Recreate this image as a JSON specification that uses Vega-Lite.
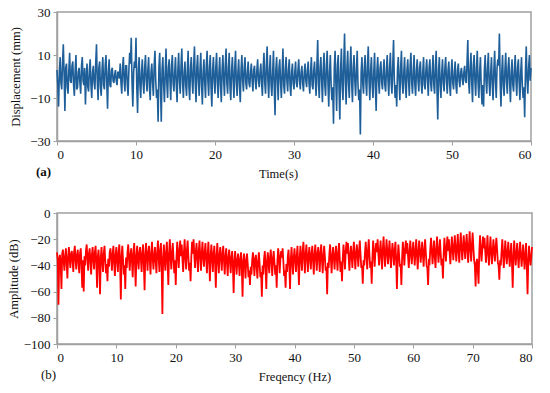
{
"$schema": "https://vega.github.io/schema/vega-lite/v6.json",
"padding": {"left": 6, "top": 5, "right": 5, "bottom": 5},
"config": {
"font": "Liberation Serif, Times New Roman, serif",
"view": {"stroke": "#a0a0a0", "strokeWidth": 1.5},
"axis": {"grid": false, "domainColor": "#a0a0a0", "domainWidth": 1.5, "tickColor": "#a0a0a0", "tickSize": 4, "labelFont": "Liberation Serif, Times New Roman, serif", "labelFontSize": 13, "labelColor": "#111111", "titleFont": "Liberation Serif, Times New Roman, serif", "titleFontSize": 12.5, "titleFontWeight": "normal", "titleColor": "#111111", "labelPadding": 3},
"concat": {"spacing": 25}
},
"vconcat": [
{
"width": 474, "height": 129,
"title": {"text": "(a)", "orient": "bottom", "anchor": "start", "frame": "group", "fontWeight": "bold", "fontSize": 13, "font": "Liberation Serif, Times New Roman, serif", "color": "#111111", "dx": -21, "dy": -18},
"data": {"values": [
{"t":0,"d":3},{"t":0.1,"d":-4},{"t":0.2,"d":-14},{"t":0.3,"d":2},{"t":0.4,"d":9},{"t":0.5,"d":-3},{"t":0.6,"d":-6},{"t":0.7,"d":6},{"t":0.8,"d":15},{"t":0.9,"d":1},
{"t":1,"d":-16},{"t":1.1,"d":4},{"t":1.2,"d":6},{"t":1.3,"d":-5},{"t":1.4,"d":-8},{"t":1.5,"d":3},{"t":1.6,"d":11},{"t":1.7,"d":-2},{"t":1.8,"d":-3},{"t":1.9,"d":5},
{"t":2,"d":7},{"t":2.1,"d":-4},{"t":2.2,"d":-9},{"t":2.3,"d":3},{"t":2.4,"d":10},{"t":2.5,"d":-6},{"t":2.6,"d":-5},{"t":2.7,"d":2},{"t":2.8,"d":4},{"t":2.9,"d":-3},
{"t":3,"d":-8},{"t":3.1,"d":5},{"t":3.2,"d":9},{"t":3.3,"d":-2},{"t":3.4,"d":-4},{"t":3.5,"d":4},{"t":3.6,"d":-13},{"t":3.7,"d":-1},{"t":3.8,"d":6},{"t":3.9,"d":-5},
{"t":4,"d":-7},{"t":4.1,"d":3},{"t":4.2,"d":8},{"t":4.3,"d":-4},{"t":4.4,"d":-10},{"t":4.5,"d":2},{"t":4.6,"d":5},{"t":4.7,"d":-3},{"t":4.8,"d":-6},{"t":4.9,"d":6},
{"t":5,"d":15},{"t":5.1,"d":-2},{"t":5.2,"d":-11},{"t":5.3,"d":4},{"t":5.4,"d":7},{"t":5.5,"d":-5},{"t":5.6,"d":-9},{"t":5.7,"d":3},{"t":5.8,"d":9},{"t":5.9,"d":-4},
{"t":6,"d":-6},{"t":6.1,"d":5},{"t":6.2,"d":10},{"t":6.3,"d":-3},{"t":6.4,"d":-15},{"t":6.5,"d":2},{"t":6.6,"d":8},{"t":6.7,"d":-4},{"t":6.8,"d":-5},{"t":6.9,"d":3},
{"t":7,"d":4},{"t":7.1,"d":-2},{"t":7.2,"d":-3},{"t":7.3,"d":1},{"t":7.4,"d":3},{"t":7.5,"d":-2},{"t":7.6,"d":-4},{"t":7.7,"d":2},{"t":7.8,"d":2},{"t":7.9,"d":-1},
{"t":8,"d":6},{"t":8.1,"d":-3},{"t":8.2,"d":-8},{"t":8.3,"d":4},{"t":8.4,"d":9},{"t":8.5,"d":-2},{"t":8.6,"d":-7},{"t":8.7,"d":5},{"t":8.8,"d":5},{"t":8.9,"d":-4},
{"t":9,"d":-9},{"t":9.1,"d":3},{"t":9.2,"d":11},{"t":9.3,"d":6},{"t":9.4,"d":18},{"t":9.5,"d":-3},{"t":9.6,"d":-14},{"t":9.7,"d":2},{"t":9.8,"d":7},{"t":9.9,"d":4},
{"t":10,"d":18},{"t":10.1,"d":-5},{"t":10.2,"d":-17},{"t":10.3,"d":3},{"t":10.4,"d":9},{"t":10.5,"d":-4},{"t":10.6,"d":-10},{"t":10.7,"d":2},{"t":10.8,"d":8},{"t":10.9,"d":-3},
{"t":11,"d":-8},{"t":11.1,"d":4},{"t":11.2,"d":10},{"t":11.3,"d":-2},{"t":11.4,"d":-7},{"t":11.5,"d":3},{"t":11.6,"d":9},{"t":11.7,"d":-5},{"t":11.8,"d":-11},{"t":11.9,"d":2},
{"t":12,"d":6},{"t":12.1,"d":-3},{"t":12.2,"d":-9},{"t":12.3,"d":5},{"t":12.4,"d":12},{"t":12.5,"d":-2},{"t":12.6,"d":-10},{"t":12.7,"d":-6},{"t":12.8,"d":-21},{"t":12.9,"d":4},
{"t":13,"d":11},{"t":13.1,"d":-5},{"t":13.2,"d":-21},{"t":13.3,"d":3},{"t":13.4,"d":9},{"t":13.5,"d":-4},{"t":13.6,"d":-12},{"t":13.7,"d":2},{"t":13.8,"d":13},{"t":13.9,"d":-3},
{"t":14,"d":-10},{"t":14.1,"d":4},{"t":14.2,"d":8},{"t":14.3,"d":-2},{"t":14.4,"d":-11},{"t":14.5,"d":5},{"t":14.6,"d":10},{"t":14.7,"d":-3},{"t":14.8,"d":-7},{"t":14.9,"d":2},
{"t":15,"d":9},{"t":15.1,"d":-4},{"t":15.2,"d":-12},{"t":15.3,"d":3},{"t":15.4,"d":11},{"t":15.5,"d":-2},{"t":15.6,"d":-8},{"t":15.7,"d":5},{"t":15.8,"d":13},{"t":15.9,"d":-3},
{"t":16,"d":-10},{"t":16.1,"d":2},{"t":16.2,"d":7},{"t":16.3,"d":-4},{"t":16.4,"d":-9},{"t":16.5,"d":3},{"t":16.6,"d":12},{"t":16.7,"d":-5},{"t":16.8,"d":-11},{"t":16.9,"d":4},
{"t":17,"d":9},{"t":17.1,"d":-2},{"t":17.2,"d":-8},{"t":17.3,"d":5},{"t":17.4,"d":14},{"t":17.5,"d":-3},{"t":17.6,"d":-12},{"t":17.7,"d":4},{"t":17.8,"d":10},{"t":17.9,"d":-2},
{"t":18,"d":-9},{"t":18.1,"d":3},{"t":18.2,"d":11},{"t":18.3,"d":-4},{"t":18.4,"d":-13},{"t":18.5,"d":2},{"t":18.6,"d":8},{"t":18.7,"d":-3},{"t":18.8,"d":-10},{"t":18.9,"d":5},
{"t":19,"d":12},{"t":19.1,"d":-2},{"t":19.2,"d":-9},{"t":19.3,"d":4},{"t":19.4,"d":10},{"t":19.5,"d":-5},{"t":19.6,"d":-14},{"t":19.7,"d":3},{"t":19.8,"d":9},{"t":19.9,"d":-2},
{"t":20,"d":-8},{"t":20.1,"d":4},{"t":20.2,"d":11},{"t":20.3,"d":-3},{"t":20.4,"d":-10},{"t":20.5,"d":2},{"t":20.6,"d":9},{"t":20.7,"d":-4},{"t":20.8,"d":-12},{"t":20.9,"d":3},
{"t":21,"d":10},{"t":21.1,"d":-2},{"t":21.2,"d":-9},{"t":21.3,"d":5},{"t":21.4,"d":13},{"t":21.5,"d":-3},{"t":21.6,"d":-8},{"t":21.7,"d":4},{"t":21.8,"d":11},{"t":21.9,"d":-5},
{"t":22,"d":-11},{"t":22.1,"d":3},{"t":22.2,"d":9},{"t":22.3,"d":-2},{"t":22.4,"d":-10},{"t":22.5,"d":4},{"t":22.6,"d":12},{"t":22.7,"d":-3},{"t":22.8,"d":-9},{"t":22.9,"d":2},
{"t":23,"d":8},{"t":23.1,"d":-4},{"t":23.2,"d":-12},{"t":23.3,"d":3},{"t":23.4,"d":10},{"t":23.5,"d":-2},{"t":23.6,"d":-7},{"t":23.7,"d":4},{"t":23.8,"d":9},{"t":23.9,"d":-3},
{"t":24,"d":-6},{"t":24.1,"d":2},{"t":24.2,"d":7},{"t":24.3,"d":-3},{"t":24.4,"d":-5},{"t":24.5,"d":2},{"t":24.6,"d":6},{"t":24.7,"d":-2},{"t":24.8,"d":-7},{"t":24.9,"d":3},
{"t":25,"d":5},{"t":25.1,"d":-2},{"t":25.2,"d":-6},{"t":25.3,"d":3},{"t":25.4,"d":8},{"t":25.5,"d":-2},{"t":25.6,"d":-5},{"t":25.7,"d":2},{"t":25.8,"d":6},{"t":25.9,"d":-3},
{"t":26,"d":-9},{"t":26.1,"d":4},{"t":26.2,"d":11},{"t":26.3,"d":-3},{"t":26.4,"d":-8},{"t":26.5,"d":5},{"t":26.6,"d":14},{"t":26.7,"d":-2},{"t":26.8,"d":-10},{"t":26.9,"d":3},
{"t":27,"d":10},{"t":27.1,"d":-4},{"t":27.2,"d":-9},{"t":27.3,"d":2},{"t":27.4,"d":12},{"t":27.5,"d":-5},{"t":27.6,"d":-18},{"t":27.7,"d":3},{"t":27.8,"d":9},{"t":27.9,"d":-2},
{"t":28,"d":-11},{"t":28.1,"d":4},{"t":28.2,"d":8},{"t":28.3,"d":-3},{"t":28.4,"d":-10},{"t":28.5,"d":2},{"t":28.6,"d":13},{"t":28.7,"d":-4},{"t":28.8,"d":-8},{"t":28.9,"d":3},
{"t":29,"d":9},{"t":29.1,"d":-2},{"t":29.2,"d":-7},{"t":29.3,"d":3},{"t":29.4,"d":8},{"t":29.5,"d":-4},{"t":29.6,"d":-9},{"t":29.7,"d":2},{"t":29.8,"d":6},{"t":29.9,"d":-3},
{"t":30,"d":-6},{"t":30.1,"d":2},{"t":30.2,"d":7},{"t":30.3,"d":-3},{"t":30.4,"d":-5},{"t":30.5,"d":3},{"t":30.6,"d":8},{"t":30.7,"d":-2},{"t":30.8,"d":-6},{"t":30.9,"d":2},
{"t":31,"d":5},{"t":31.1,"d":-3},{"t":31.2,"d":-7},{"t":31.3,"d":2},{"t":31.4,"d":6},{"t":31.5,"d":-2},{"t":31.6,"d":-5},{"t":31.7,"d":3},{"t":31.8,"d":7},{"t":31.9,"d":-3},
{"t":32,"d":-8},{"t":32.1,"d":2},{"t":32.2,"d":9},{"t":32.3,"d":-4},{"t":32.4,"d":-6},{"t":32.5,"d":3},{"t":32.6,"d":7},{"t":32.7,"d":-2},{"t":32.8,"d":-9},{"t":32.9,"d":5},
{"t":33,"d":17},{"t":33.1,"d":-3},{"t":33.2,"d":-10},{"t":33.3,"d":4},{"t":33.4,"d":9},{"t":33.5,"d":-2},{"t":33.6,"d":-12},{"t":33.7,"d":3},{"t":33.8,"d":11},{"t":33.9,"d":-4},
{"t":34,"d":-9},{"t":34.1,"d":5},{"t":34.2,"d":12},{"t":34.3,"d":-3},{"t":34.4,"d":-14},{"t":34.5,"d":2},{"t":34.6,"d":10},{"t":34.7,"d":-4},{"t":34.8,"d":-11},{"t":34.9,"d":-5},
{"t":35,"d":-22},{"t":35.1,"d":4},{"t":35.2,"d":12},{"t":35.3,"d":-3},{"t":35.4,"d":-16},{"t":35.5,"d":5},{"t":35.6,"d":10},{"t":35.7,"d":-6},{"t":35.8,"d":-20},{"t":35.9,"d":3},
{"t":36,"d":13},{"t":36.1,"d":-4},{"t":36.2,"d":-11},{"t":36.3,"d":6},{"t":36.4,"d":20},{"t":36.5,"d":-2},{"t":36.6,"d":-13},{"t":36.7,"d":4},{"t":36.8,"d":12},{"t":36.9,"d":-3},
{"t":37,"d":-10},{"t":37.1,"d":5},{"t":37.2,"d":14},{"t":37.3,"d":-3},{"t":37.4,"d":-12},{"t":37.5,"d":4},{"t":37.6,"d":10},{"t":37.7,"d":-2},{"t":37.8,"d":-9},{"t":37.9,"d":3},
{"t":38,"d":12},{"t":38.1,"d":-4},{"t":38.2,"d":-11},{"t":38.3,"d":-6},{"t":38.4,"d":-27},{"t":38.5,"d":2},{"t":38.6,"d":9},{"t":38.7,"d":-3},{"t":38.8,"d":-8},{"t":38.9,"d":4},
{"t":39,"d":10},{"t":39.1,"d":-3},{"t":39.2,"d":-9},{"t":39.3,"d":5},{"t":39.4,"d":14},{"t":39.5,"d":-2},{"t":39.6,"d":-11},{"t":39.7,"d":3},{"t":39.8,"d":9},{"t":39.9,"d":-4},
{"t":40,"d":-10},{"t":40.1,"d":2},{"t":40.2,"d":11},{"t":40.3,"d":-5},{"t":40.4,"d":-16},{"t":40.5,"d":3},{"t":40.6,"d":9},{"t":40.7,"d":-2},{"t":40.8,"d":-8},{"t":40.9,"d":4},
{"t":41,"d":7},{"t":41.1,"d":-3},{"t":41.2,"d":-6},{"t":41.3,"d":2},{"t":41.4,"d":8},{"t":41.5,"d":-4},{"t":41.6,"d":-7},{"t":41.7,"d":3},{"t":41.8,"d":10},{"t":41.9,"d":-2},
{"t":42,"d":-9},{"t":42.1,"d":4},{"t":42.2,"d":11},{"t":42.3,"d":-3},{"t":42.4,"d":-8},{"t":42.5,"d":5},{"t":42.6,"d":17},{"t":42.7,"d":-2},{"t":42.8,"d":-10},{"t":42.9,"d":-4},
{"t":43,"d":-14},{"t":43.1,"d":3},{"t":43.2,"d":9},{"t":43.3,"d":-2},{"t":43.4,"d":-11},{"t":43.5,"d":4},{"t":43.6,"d":12},{"t":43.7,"d":-3},{"t":43.8,"d":-8},{"t":43.9,"d":2},
{"t":44,"d":9},{"t":44.1,"d":-4},{"t":44.2,"d":-10},{"t":44.3,"d":3},{"t":44.4,"d":8},{"t":44.5,"d":-2},{"t":44.6,"d":-9},{"t":44.7,"d":5},{"t":44.8,"d":11},{"t":44.9,"d":-3},
{"t":45,"d":-8},{"t":45.1,"d":2},{"t":45.2,"d":10},{"t":45.3,"d":-4},{"t":45.4,"d":-9},{"t":45.5,"d":3},{"t":45.6,"d":8},{"t":45.7,"d":-2},{"t":45.8,"d":-7},{"t":45.9,"d":4},
{"t":46,"d":7},{"t":46.1,"d":-3},{"t":46.2,"d":-8},{"t":46.3,"d":2},{"t":46.4,"d":9},{"t":46.5,"d":-4},{"t":46.6,"d":-6},{"t":46.7,"d":3},{"t":46.8,"d":8},{"t":46.9,"d":-2},
{"t":47,"d":-9},{"t":47.1,"d":4},{"t":47.2,"d":8},{"t":47.3,"d":-3},{"t":47.4,"d":-7},{"t":47.5,"d":2},{"t":47.6,"d":10},{"t":47.7,"d":-4},{"t":47.8,"d":-8},{"t":47.9,"d":5},
{"t":48,"d":12},{"t":48.1,"d":-6},{"t":48.2,"d":-20},{"t":48.3,"d":3},{"t":48.4,"d":9},{"t":48.5,"d":-4},{"t":48.6,"d":-10},{"t":48.7,"d":2},{"t":48.8,"d":8},{"t":48.9,"d":-3},
{"t":49,"d":-7},{"t":49.1,"d":4},{"t":49.2,"d":9},{"t":49.3,"d":-2},{"t":49.4,"d":-8},{"t":49.5,"d":3},{"t":49.6,"d":7},{"t":49.7,"d":-4},{"t":49.8,"d":-9},{"t":49.9,"d":2},
{"t":50,"d":8},{"t":50.1,"d":-3},{"t":50.2,"d":-6},{"t":50.3,"d":2},{"t":50.4,"d":7},{"t":50.5,"d":-4},{"t":50.6,"d":-8},{"t":50.7,"d":3},{"t":50.8,"d":6},{"t":50.9,"d":-2},
{"t":51,"d":-5},{"t":51.1,"d":2},{"t":51.2,"d":4},{"t":51.3,"d":-1},{"t":51.4,"d":-4},{"t":51.5,"d":2},{"t":51.6,"d":5},{"t":51.7,"d":-2},{"t":51.8,"d":-3},{"t":51.9,"d":6},
{"t":52,"d":17},{"t":52.1,"d":-2},{"t":52.2,"d":-8},{"t":52.3,"d":4},{"t":52.4,"d":11},{"t":52.5,"d":-3},{"t":52.6,"d":-12},{"t":52.7,"d":5},{"t":52.8,"d":10},{"t":52.9,"d":-2},
{"t":53,"d":-9},{"t":53.1,"d":4},{"t":53.2,"d":12},{"t":53.3,"d":-3},{"t":53.4,"d":-10},{"t":53.5,"d":2},{"t":53.6,"d":9},{"t":53.7,"d":-5},{"t":53.8,"d":-13},{"t":53.9,"d":-4},
{"t":54,"d":-14},{"t":54.1,"d":3},{"t":54.2,"d":10},{"t":54.3,"d":-2},{"t":54.4,"d":-8},{"t":54.5,"d":4},{"t":54.6,"d":11},{"t":54.7,"d":-3},{"t":54.8,"d":-9},{"t":54.9,"d":2},
{"t":55,"d":9},{"t":55.1,"d":-4},{"t":55.2,"d":-11},{"t":55.3,"d":3},{"t":55.4,"d":12},{"t":55.5,"d":-2},{"t":55.6,"d":-10},{"t":55.7,"d":4},{"t":55.8,"d":8},{"t":55.9,"d":5},
{"t":56,"d":20},{"t":56.1,"d":-3},{"t":56.2,"d":-14},{"t":56.3,"d":2},{"t":56.4,"d":10},{"t":56.5,"d":-4},{"t":56.6,"d":-9},{"t":56.7,"d":3},{"t":56.8,"d":11},{"t":56.9,"d":-2},
{"t":57,"d":-8},{"t":57.1,"d":4},{"t":57.2,"d":9},{"t":57.3,"d":-3},{"t":57.4,"d":-12},{"t":57.5,"d":2},{"t":57.6,"d":8},{"t":57.7,"d":-4},{"t":57.8,"d":-7},{"t":57.9,"d":3},
{"t":58,"d":10},{"t":58.1,"d":-2},{"t":58.2,"d":-9},{"t":58.3,"d":4},{"t":58.4,"d":8},{"t":58.5,"d":-3},{"t":58.6,"d":-11},{"t":58.7,"d":2},{"t":58.8,"d":9},{"t":58.9,"d":-4},
{"t":59,"d":-10},{"t":59.1,"d":-5},{"t":59.2,"d":-19},{"t":59.3,"d":3},{"t":59.4,"d":14},{"t":59.5,"d":-2},{"t":59.6,"d":-8},{"t":59.7,"d":4},{"t":59.8,"d":10},{"t":59.9,"d":-2},
{"t":60,"d":4}
]},
"mark": {"type": "line", "color": "#1f5f99", "strokeWidth": 1.6},
"encoding": {
"x": {"field": "t", "type": "quantitative", "scale": {"domain": [0, 60], "nice": false}, "axis": {"values": [0, 10, 20, 30, 40, 50, 60], "title": "Time(s)", "titleX": 221, "titlePadding": 6}},
"y": {"field": "d", "type": "quantitative", "scale": {"domain": [-30, 30], "nice": false}, "axis": {"values": [-30, -10, 10, 30], "title": "Displacement (mm)", "titlePadding": 7}}
}
},
{
"width": 475, "height": 131,
"title": {"text": "(b)", "orient": "bottom", "anchor": "start", "frame": "group", "fontWeight": "normal", "fontSize": 13, "font": "Liberation Serif, Times New Roman, serif", "color": "#111111", "dx": -16, "dy": -18},
"data": {"values": [
{"f":0,"a":-30},{"f":0.125,"a":-36},{"f":0.25,"a":-70},{"f":0.375,"a":-35},{"f":0.5,"a":-32},{"f":0.625,"a":-40},{"f":0.75,"a":-58},{"f":0.875,"a":-31},
{"f":1,"a":-28},{"f":1.125,"a":-37},{"f":1.25,"a":-44},{"f":1.375,"a":-33},{"f":1.5,"a":-27},{"f":1.625,"a":-38},{"f":1.75,"a":-50},{"f":1.875,"a":-34},
{"f":2,"a":-26},{"f":2.125,"a":-35},{"f":2.25,"a":-42},{"f":2.375,"a":-31},{"f":2.5,"a":-29},{"f":2.625,"a":-37},{"f":2.75,"a":-45},{"f":2.875,"a":-30},
{"f":3,"a":-25},{"f":3.125,"a":-36},{"f":3.25,"a":-43},{"f":3.375,"a":-32},{"f":3.5,"a":-28},{"f":3.625,"a":-38},{"f":3.75,"a":-46},{"f":3.875,"a":-31},
{"f":4,"a":-27},{"f":4.125,"a":-39},{"f":4.25,"a":-57},{"f":4.375,"a":-36},{"f":4.5,"a":-60},{"f":4.625,"a":-33},{"f":4.75,"a":-40},{"f":4.875,"a":-29},
{"f":5,"a":-24},{"f":5.125,"a":-35},{"f":5.25,"a":-44},{"f":5.375,"a":-31},{"f":5.5,"a":-27},{"f":5.625,"a":-37},{"f":5.75,"a":-47},{"f":5.875,"a":-32},
{"f":6,"a":-26},{"f":6.125,"a":-36},{"f":6.25,"a":-43},{"f":6.375,"a":-30},{"f":6.5,"a":-25},{"f":6.625,"a":-38},{"f":6.75,"a":-57},{"f":6.875,"a":-33},
{"f":7,"a":-28},{"f":7.125,"a":-40},{"f":7.25,"a":-62},{"f":7.375,"a":-34},{"f":7.5,"a":-26},{"f":7.625,"a":-37},{"f":7.75,"a":-45},{"f":7.875,"a":-31},
{"f":8,"a":-25},{"f":8.125,"a":-36},{"f":8.25,"a":-46},{"f":8.375,"a":-39},{"f":8.5,"a":-52},{"f":8.625,"a":-35},{"f":8.75,"a":-41},{"f":8.875,"a":-30},
{"f":9,"a":-27},{"f":9.125,"a":-35},{"f":9.25,"a":-44},{"f":9.375,"a":-31},{"f":9.5,"a":-25},{"f":9.625,"a":-38},{"f":9.75,"a":-48},{"f":9.875,"a":-32},
{"f":10,"a":-26},{"f":10.125,"a":-37},{"f":10.25,"a":-45},{"f":10.375,"a":-30},{"f":10.5,"a":-24},{"f":10.625,"a":-39},{"f":10.75,"a":-66},{"f":10.875,"a":-33},
{"f":11,"a":-25},{"f":11.125,"a":-36},{"f":11.25,"a":-47},{"f":11.375,"a":-40},{"f":11.5,"a":-58},{"f":11.625,"a":-34},{"f":11.75,"a":-42},{"f":11.875,"a":-30},
{"f":12,"a":-24},{"f":12.125,"a":-35},{"f":12.25,"a":-44},{"f":12.375,"a":-32},{"f":12.5,"a":-27},{"f":12.625,"a":-37},{"f":12.75,"a":-49},{"f":12.875,"a":-31},
{"f":13,"a":-23},{"f":13.125,"a":-38},{"f":13.25,"a":-56},{"f":13.375,"a":-33},{"f":13.5,"a":-25},{"f":13.625,"a":-36},{"f":13.75,"a":-43},{"f":13.875,"a":-30},
{"f":14,"a":-26},{"f":14.125,"a":-35},{"f":14.25,"a":-45},{"f":14.375,"a":-31},{"f":14.5,"a":-24},{"f":14.625,"a":-39},{"f":14.75,"a":-59},{"f":14.875,"a":-32},
{"f":15,"a":-23},{"f":15.125,"a":-34},{"f":15.25,"a":-44},{"f":15.375,"a":-30},{"f":15.5,"a":-25},{"f":15.625,"a":-36},{"f":15.75,"a":-47},{"f":15.875,"a":-31},
{"f":16,"a":-22},{"f":16.125,"a":-35},{"f":16.25,"a":-43},{"f":16.375,"a":-32},{"f":16.5,"a":-26},{"f":16.625,"a":-37},{"f":16.75,"a":-46},{"f":16.875,"a":-30},
{"f":17,"a":-21},{"f":17.125,"a":-34},{"f":17.25,"a":-45},{"f":17.375,"a":-29},{"f":17.5,"a":-23},{"f":17.625,"a":-41},{"f":17.75,"a":-77},{"f":17.875,"a":-35},
{"f":18,"a":-24},{"f":18.125,"a":-36},{"f":18.25,"a":-44},{"f":18.375,"a":-30},{"f":18.5,"a":-22},{"f":18.625,"a":-38},{"f":18.75,"a":-55},{"f":18.875,"a":-31},
{"f":19,"a":-20},{"f":19.125,"a":-33},{"f":19.25,"a":-43},{"f":19.375,"a":-31},{"f":19.5,"a":-23},{"f":19.625,"a":-35},{"f":19.75,"a":-46},{"f":19.875,"a":-36},
{"f":20,"a":-55},{"f":20.125,"a":-34},{"f":20.25,"a":-22},{"f":20.375,"a":-32},{"f":20.5,"a":-42},{"f":20.625,"a":-29},{"f":20.75,"a":-21},{"f":20.875,"a":-33},
{"f":21,"a":-24},{"f":21.125,"a":-35},{"f":21.25,"a":-45},{"f":21.375,"a":-30},{"f":21.5,"a":-20},{"f":21.625,"a":-34},{"f":21.75,"a":-43},{"f":21.875,"a":-29},
{"f":22,"a":-21},{"f":22.125,"a":-33},{"f":22.25,"a":-44},{"f":22.375,"a":-38},{"f":22.5,"a":-52},{"f":22.625,"a":-33},{"f":22.75,"a":-22},{"f":22.875,"a":-31},
{"f":23,"a":-20},{"f":23.125,"a":-32},{"f":23.25,"a":-42},{"f":23.375,"a":-30},{"f":23.5,"a":-23},{"f":23.625,"a":-35},{"f":23.75,"a":-45},{"f":23.875,"a":-29},
{"f":24,"a":-21},{"f":24.125,"a":-33},{"f":24.25,"a":-44},{"f":24.375,"a":-31},{"f":24.5,"a":-22},{"f":24.625,"a":-34},{"f":24.75,"a":-41},{"f":24.875,"a":-30},
{"f":25,"a":-23},{"f":25.125,"a":-35},{"f":25.25,"a":-46},{"f":25.375,"a":-32},{"f":25.5,"a":-22},{"f":25.625,"a":-36},{"f":25.75,"a":-52},{"f":25.875,"a":-33},
{"f":26,"a":-24},{"f":26.125,"a":-35},{"f":26.25,"a":-45},{"f":26.375,"a":-31},{"f":26.5,"a":-25},{"f":26.625,"a":-38},{"f":26.75,"a":-57},{"f":26.875,"a":-33},
{"f":27,"a":-23},{"f":27.125,"a":-36},{"f":27.25,"a":-46},{"f":27.375,"a":-32},{"f":27.5,"a":-26},{"f":27.625,"a":-35},{"f":27.75,"a":-44},{"f":27.875,"a":-31},
{"f":28,"a":-25},{"f":28.125,"a":-37},{"f":28.25,"a":-47},{"f":28.375,"a":-33},{"f":28.5,"a":-27},{"f":28.625,"a":-38},{"f":28.75,"a":-48},{"f":28.875,"a":-34},
{"f":29,"a":-28},{"f":29.125,"a":-36},{"f":29.25,"a":-46},{"f":29.375,"a":-35},{"f":29.5,"a":-29},{"f":29.625,"a":-41},{"f":29.75,"a":-61},{"f":29.875,"a":-37},
{"f":30,"a":-29},{"f":30.125,"a":-38},{"f":30.25,"a":-47},{"f":30.375,"a":-36},{"f":30.5,"a":-31},{"f":30.625,"a":-39},{"f":30.75,"a":-48},{"f":30.875,"a":-35},
{"f":31,"a":-30},{"f":31.125,"a":-42},{"f":31.25,"a":-64},{"f":31.375,"a":-37},{"f":31.5,"a":-31},{"f":31.625,"a":-40},{"f":31.75,"a":-50},{"f":31.875,"a":-36},
{"f":32,"a":-31},{"f":32.125,"a":-39},{"f":32.25,"a":-49},{"f":32.375,"a":-44},{"f":32.5,"a":-55},{"f":32.625,"a":-41},{"f":32.75,"a":-47},{"f":32.875,"a":-36},
{"f":33,"a":-30},{"f":33.125,"a":-38},{"f":33.25,"a":-48},{"f":33.375,"a":-35},{"f":33.5,"a":-32},{"f":33.625,"a":-41},{"f":33.75,"a":-50},{"f":33.875,"a":-37},
{"f":34,"a":-30},{"f":34.125,"a":-39},{"f":34.25,"a":-49},{"f":34.375,"a":-45},{"f":34.5,"a":-64},{"f":34.625,"a":-40},{"f":34.75,"a":-47},{"f":34.875,"a":-35},
{"f":35,"a":-29},{"f":35.125,"a":-41},{"f":35.25,"a":-58},{"f":35.375,"a":-37},{"f":35.5,"a":-30},{"f":35.625,"a":-38},{"f":35.75,"a":-46},{"f":35.875,"a":-34},
{"f":36,"a":-28},{"f":36.125,"a":-37},{"f":36.25,"a":-48},{"f":36.375,"a":-35},{"f":36.5,"a":-29},{"f":36.625,"a":-38},{"f":36.75,"a":-47},{"f":36.875,"a":-40},
{"f":37,"a":-57},{"f":37.125,"a":-36},{"f":37.25,"a":-27},{"f":37.375,"a":-33},{"f":37.5,"a":-46},{"f":37.625,"a":-35},{"f":37.75,"a":-29},{"f":37.875,"a":-34},
{"f":38,"a":-27},{"f":38.125,"a":-37},{"f":38.25,"a":-48},{"f":38.375,"a":-44},{"f":38.5,"a":-57},{"f":38.625,"a":-39},{"f":38.75,"a":-45},{"f":38.875,"a":-33},
{"f":39,"a":-28},{"f":39.125,"a":-40},{"f":39.25,"a":-58},{"f":39.375,"a":-36},{"f":39.5,"a":-26},{"f":39.625,"a":-37},{"f":39.75,"a":-47},{"f":39.875,"a":-34},
{"f":40,"a":-27},{"f":40.125,"a":-36},{"f":40.25,"a":-45},{"f":40.375,"a":-33},{"f":40.5,"a":-25},{"f":40.625,"a":-39},{"f":40.75,"a":-55},{"f":40.875,"a":-35},
{"f":41,"a":-25},{"f":41.125,"a":-35},{"f":41.25,"a":-44},{"f":41.375,"a":-30},{"f":41.5,"a":-22},{"f":41.625,"a":-34},{"f":41.75,"a":-46},{"f":41.875,"a":-32},
{"f":42,"a":-24},{"f":42.125,"a":-34},{"f":42.25,"a":-45},{"f":42.375,"a":-33},{"f":42.5,"a":-26},{"f":42.625,"a":-35},{"f":42.75,"a":-43},{"f":42.875,"a":-31},
{"f":43,"a":-25},{"f":43.125,"a":-36},{"f":43.25,"a":-47},{"f":43.375,"a":-32},{"f":43.5,"a":-24},{"f":43.625,"a":-34},{"f":43.75,"a":-44},{"f":43.875,"a":-31},
{"f":44,"a":-26},{"f":44.125,"a":-35},{"f":44.25,"a":-45},{"f":44.375,"a":-30},{"f":44.5,"a":-24},{"f":44.625,"a":-36},{"f":44.75,"a":-46},{"f":44.875,"a":-33},
{"f":45,"a":-25},{"f":45.125,"a":-34},{"f":45.25,"a":-44},{"f":45.375,"a":-41},{"f":45.5,"a":-62},{"f":45.625,"a":-38},{"f":45.75,"a":-42},{"f":45.875,"a":-31},
{"f":46,"a":-24},{"f":46.125,"a":-35},{"f":46.25,"a":-46},{"f":46.375,"a":-33},{"f":46.5,"a":-26},{"f":46.625,"a":-34},{"f":46.75,"a":-43},{"f":46.875,"a":-32},
{"f":47,"a":-25},{"f":47.125,"a":-35},{"f":47.25,"a":-44},{"f":47.375,"a":-31},{"f":47.5,"a":-23},{"f":47.625,"a":-35},{"f":47.75,"a":-45},{"f":47.875,"a":-37},
{"f":48,"a":-52},{"f":48.125,"a":-35},{"f":48.25,"a":-24},{"f":48.375,"a":-32},{"f":48.5,"a":-43},{"f":48.625,"a":-30},{"f":48.75,"a":-22},{"f":48.875,"a":-31},
{"f":49,"a":-23},{"f":49.125,"a":-34},{"f":49.25,"a":-44},{"f":49.375,"a":-32},{"f":49.5,"a":-25},{"f":49.625,"a":-33},{"f":49.75,"a":-42},{"f":49.875,"a":-30},
{"f":50,"a":-22},{"f":50.125,"a":-33},{"f":50.25,"a":-43},{"f":50.375,"a":-31},{"f":50.5,"a":-24},{"f":50.625,"a":-32},{"f":50.75,"a":-41},{"f":50.875,"a":-29},
{"f":51,"a":-21},{"f":51.125,"a":-32},{"f":51.25,"a":-42},{"f":51.375,"a":-40},{"f":51.5,"a":-54},{"f":51.625,"a":-36},{"f":51.75,"a":-40},{"f":51.875,"a":-30},
{"f":52,"a":-22},{"f":52.125,"a":-33},{"f":52.25,"a":-43},{"f":52.375,"a":-29},{"f":52.5,"a":-20},{"f":52.625,"a":-32},{"f":52.75,"a":-42},{"f":52.875,"a":-37},
{"f":53,"a":-54},{"f":53.125,"a":-34},{"f":53.25,"a":-21},{"f":53.375,"a":-30},{"f":53.5,"a":-41},{"f":53.625,"a":-29},{"f":53.75,"a":-23},{"f":53.875,"a":-30},
{"f":54,"a":-20},{"f":54.125,"a":-31},{"f":54.25,"a":-40},{"f":54.375,"a":-29},{"f":54.5,"a":-21},{"f":54.625,"a":-33},{"f":54.75,"a":-43},{"f":54.875,"a":-28},
{"f":55,"a":-18},{"f":55.125,"a":-30},{"f":55.25,"a":-41},{"f":55.375,"a":-31},{"f":55.5,"a":-20},{"f":55.625,"a":-29},{"f":55.75,"a":-39},{"f":55.875,"a":-30},
{"f":56,"a":-21},{"f":56.125,"a":-32},{"f":56.25,"a":-42},{"f":56.375,"a":-31},{"f":56.5,"a":-23},{"f":56.625,"a":-30},{"f":56.75,"a":-40},{"f":56.875,"a":-29},
{"f":57,"a":-22},{"f":57.125,"a":-37},{"f":57.25,"a":-58},{"f":57.375,"a":-35},{"f":57.5,"a":-24},{"f":57.625,"a":-33},{"f":57.75,"a":-41},{"f":57.875,"a":-39},
{"f":58,"a":-55},{"f":58.125,"a":-34},{"f":58.25,"a":-22},{"f":58.375,"a":-30},{"f":58.5,"a":-40},{"f":58.625,"a":-29},{"f":58.75,"a":-21},{"f":58.875,"a":-31},
{"f":59,"a":-23},{"f":59.125,"a":-33},{"f":59.25,"a":-42},{"f":59.375,"a":-30},{"f":59.5,"a":-21},{"f":59.625,"a":-31},{"f":59.75,"a":-39},{"f":59.875,"a":-29},
{"f":60,"a":-22},{"f":60.125,"a":-31},{"f":60.25,"a":-40},{"f":60.375,"a":-29},{"f":60.5,"a":-20},{"f":60.625,"a":-32},{"f":60.75,"a":-43},{"f":60.875,"a":-30},
{"f":61,"a":-21},{"f":61.125,"a":-29},{"f":61.25,"a":-38},{"f":61.375,"a":-30},{"f":61.5,"a":-22},{"f":61.625,"a":-32},{"f":61.75,"a":-41},{"f":61.875,"a":-28},
{"f":62,"a":-20},{"f":62.125,"a":-31},{"f":62.25,"a":-40},{"f":62.375,"a":-42},{"f":62.5,"a":-55},{"f":62.625,"a":-37},{"f":62.75,"a":-38},{"f":62.875,"a":-27},
{"f":63,"a":-19},{"f":63.125,"a":-29},{"f":63.25,"a":-39},{"f":63.375,"a":-30},{"f":63.5,"a":-21},{"f":63.625,"a":-33},{"f":63.75,"a":-42},{"f":63.875,"a":-28},
{"f":64,"a":-18},{"f":64.125,"a":-28},{"f":64.25,"a":-38},{"f":64.375,"a":-29},{"f":64.5,"a":-20},{"f":64.625,"a":-31},{"f":64.75,"a":-40},{"f":64.875,"a":-35},
{"f":65,"a":-50},{"f":65.125,"a":-31},{"f":65.25,"a":-19},{"f":65.375,"a":-28},{"f":65.5,"a":-37},{"f":65.625,"a":-27},{"f":65.75,"a":-18},{"f":65.875,"a":-29},
{"f":66,"a":-20},{"f":66.125,"a":-30},{"f":66.25,"a":-39},{"f":66.375,"a":-28},{"f":66.5,"a":-18},{"f":66.625,"a":-27},{"f":66.75,"a":-36},{"f":66.875,"a":-26},
{"f":67,"a":-17},{"f":67.125,"a":-28},{"f":67.25,"a":-37},{"f":67.375,"a":-26},{"f":67.5,"a":-16},{"f":67.625,"a":-29},{"f":67.75,"a":-38},{"f":67.875,"a":-25},
{"f":68,"a":-15},{"f":68.125,"a":-26},{"f":68.25,"a":-36},{"f":68.375,"a":-27},{"f":68.5,"a":-17},{"f":68.625,"a":-26},{"f":68.75,"a":-35},{"f":68.875,"a":-24},
{"f":69,"a":-16},{"f":69.125,"a":-28},{"f":69.25,"a":-38},{"f":69.375,"a":-25},{"f":69.5,"a":-14},{"f":69.625,"a":-27},{"f":69.75,"a":-37},{"f":69.875,"a":-25},
{"f":70,"a":-15},{"f":70.125,"a":-26},{"f":70.25,"a":-36},{"f":70.375,"a":-40},{"f":70.5,"a":-56},{"f":70.625,"a":-38},{"f":70.75,"a":-35},{"f":70.875,"a":-44},
{"f":71,"a":-54},{"f":71.125,"a":-30},{"f":71.25,"a":-17},{"f":71.375,"a":-27},{"f":71.5,"a":-37},{"f":71.625,"a":-28},{"f":71.75,"a":-18},{"f":71.875,"a":-27},
{"f":72,"a":-19},{"f":72.125,"a":-29},{"f":72.25,"a":-38},{"f":72.375,"a":-28},{"f":72.5,"a":-17},{"f":72.625,"a":-30},{"f":72.75,"a":-40},{"f":72.875,"a":-29},
{"f":73,"a":-18},{"f":73.125,"a":-29},{"f":73.25,"a":-39},{"f":73.375,"a":-30},{"f":73.5,"a":-20},{"f":73.625,"a":-28},{"f":73.75,"a":-37},{"f":73.875,"a":-27},
{"f":74,"a":-19},{"f":74.125,"a":-28},{"f":74.25,"a":-38},{"f":74.375,"a":-40},{"f":74.5,"a":-51},{"f":74.625,"a":-36},{"f":74.75,"a":-40},{"f":74.875,"a":-29},
{"f":75,"a":-20},{"f":75.125,"a":-31},{"f":75.25,"a":-42},{"f":75.375,"a":-32},{"f":75.5,"a":-21},{"f":75.625,"a":-30},{"f":75.75,"a":-39},{"f":75.875,"a":-31},
{"f":76,"a":-22},{"f":76.125,"a":-32},{"f":76.25,"a":-41},{"f":76.375,"a":-31},{"f":76.5,"a":-23},{"f":76.625,"a":-38},{"f":76.75,"a":-57},{"f":76.875,"a":-34},
{"f":77,"a":-21},{"f":77.125,"a":-31},{"f":77.25,"a":-40},{"f":77.375,"a":-32},{"f":77.5,"a":-23},{"f":77.625,"a":-33},{"f":77.75,"a":-42},{"f":77.875,"a":-31},
{"f":78,"a":-22},{"f":78.125,"a":-32},{"f":78.25,"a":-41},{"f":78.375,"a":-33},{"f":78.5,"a":-24},{"f":78.625,"a":-34},{"f":78.75,"a":-43},{"f":78.875,"a":-32},
{"f":79,"a":-23},{"f":79.125,"a":-40},{"f":79.25,"a":-62},{"f":79.375,"a":-37},{"f":79.5,"a":-25},{"f":79.625,"a":-33},{"f":79.75,"a":-40},{"f":79.875,"a":-34},
{"f":80,"a":-26}
]},
"mark": {"type": "line", "color": "#ff0000", "strokeWidth": 1.8},
"encoding": {
"x": {"field": "f", "type": "quantitative", "scale": {"domain": [0, 80], "nice": false}, "axis": {"values": [0, 10, 20, 30, 40, 50, 60, 70, 80], "title": "Freqency (Hz)", "titlePadding": 6}},
"y": {"field": "a", "type": "quantitative", "scale": {"domain": [-100, 0], "nice": false}, "axis": {"values": [-100, -80, -60, -40, -20, 0], "title": "Amplitude (dB)", "titlePadding": 3}}
}
}
]
}
